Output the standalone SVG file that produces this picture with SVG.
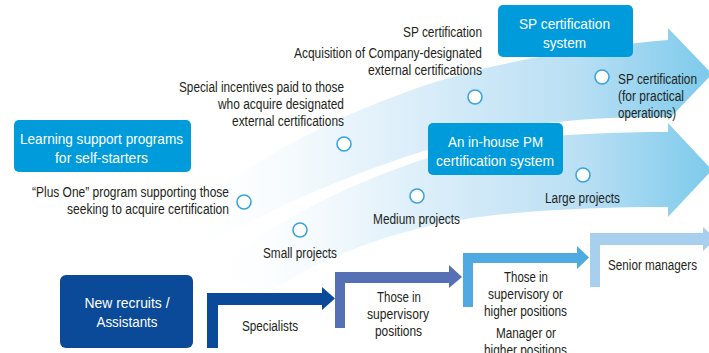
<svg xmlns="http://www.w3.org/2000/svg" width="709" height="353" viewBox="0 0 709 353">
<defs>
<linearGradient id="gU" gradientUnits="userSpaceOnUse" x1="170" y1="0" x2="712" y2="0">
<stop offset="0" stop-color="#ffffff" stop-opacity="0"/>
<stop offset="0.35" stop-color="#e6f3fb"/>
<stop offset="0.75" stop-color="#b9dff4"/>
<stop offset="1" stop-color="#7ccaec"/>
</linearGradient>
<linearGradient id="gL" gradientUnits="userSpaceOnUse" x1="200" y1="0" x2="712" y2="0">
<stop offset="0" stop-color="#ffffff" stop-opacity="0"/>
<stop offset="0.35" stop-color="#e6f3fb"/>
<stop offset="0.75" stop-color="#b9dff4"/>
<stop offset="1" stop-color="#7ccaec"/>
</linearGradient>
<style>
.lbl{font-family:"Liberation Sans",Arial,sans-serif;font-size:14px;fill:#231f20}
.box{font-family:"Liberation Sans",Arial,sans-serif;font-size:15.5px;fill:#ffffff}
.bl{fill:#009bdb}
.dot{fill:#ffffff;stroke:#3aa3df;stroke-width:1.6}
.e{text-anchor:end}
.m{text-anchor:middle}
</style>
</defs>

<g id="tracks">
<path id="track-sp" d="M165,222 C230,178 290,140 360,110 C420,85 500,55 668,40 L668,28 L712,74 L668,120 L668,117 C600,116 520,122 460,140 C400,158 320,182 200,248 Z" fill="url(#gU)"/>
<path id="track-pm" d="M210,275 C270,222 350,180 460,148 C520,136 600,132 668,132 L668,123 L712,170 L668,217 L668,207 C600,207 520,210 460,220 C400,230 330,252 270,292 Z" fill="url(#gL)"/>
</g>

<g id="connectors">
<polygon id="step1" points="207,348 207,293 322,293 322,287 335,298.5 322,310 322,305 218,305 218,348" fill="#0a4a98"/>
<polygon id="step2" points="335,328 335,272 449,272 449,265 462,277 449,288 449,283 345,283 345,328" fill="#5670b6"/>
<polygon id="step3" points="463,307 463,253 577,253 577,246 589,257.5 577,269 577,263 473,263 473,307" fill="#4faae2"/>
<polygon id="step4" points="590,287 590,233 703,233 703,227 716,239 703,251 703,245 600,245 600,287" fill="#a7cfee"/>
</g>

<g id="node-learning">
<rect x="14" y="120" width="177" height="52" rx="5" class="bl"/>
<text class="box m" x="101.5" y="144" textLength="163" lengthAdjust="spacingAndGlyphs">Learning support programs</text>
<text class="box m" x="101.5" y="163" textLength="93" lengthAdjust="spacingAndGlyphs">for self-starters</text>
</g>

<g id="node-sp-system">
<rect x="498" y="5" width="135" height="52" rx="5" class="bl"/>
<text class="box m" x="564.5" y="29" textLength="91" lengthAdjust="spacingAndGlyphs">SP certification</text>
<text class="box m" x="564.5" y="48" textLength="43" lengthAdjust="spacingAndGlyphs">system</text>
</g>

<g id="node-pm-system">
<rect x="428" y="123" width="135" height="52" rx="5" class="bl"/>
<text class="box m" x="495.5" y="147" textLength="95" lengthAdjust="spacingAndGlyphs">An in-house PM</text>
<text class="box m" x="495" y="166" textLength="118" lengthAdjust="spacingAndGlyphs">certification system</text>
</g>

<g id="node-recruits">
<rect x="60" y="275" width="133" height="73" rx="6" fill="#0a4a98"/>
<text class="box m" x="127" y="308" textLength="85" lengthAdjust="spacingAndGlyphs">New recruits /</text>
<text class="box m" x="127" y="327" textLength="61" lengthAdjust="spacingAndGlyphs">Assistants</text>
</g>

<g id="node-sp-cert">
<circle class="dot" cx="475" cy="97" r="7"/>
<text class="lbl e" x="482" y="37" textLength="79" lengthAdjust="spacingAndGlyphs">SP certification</text>
<text class="lbl e" x="482" y="58" textLength="188" lengthAdjust="spacingAndGlyphs">Acquisition of Company-designated</text>
<text class="lbl e" x="482" y="75" textLength="114" lengthAdjust="spacingAndGlyphs">external certifications</text>
</g>

<g id="node-sp-practical">
<circle class="dot" cx="602" cy="77" r="7"/>
<text class="lbl" x="618" y="84" textLength="79" lengthAdjust="spacingAndGlyphs">SP certification</text>
<text class="lbl" x="618" y="101" textLength="66" lengthAdjust="spacingAndGlyphs">(for practical</text>
<text class="lbl" x="618" y="118" textLength="58" lengthAdjust="spacingAndGlyphs">operations)</text>
</g>

<g id="node-incentives">
<circle class="dot" cx="344" cy="144" r="7"/>
<text class="lbl e" x="344" y="92" textLength="165" lengthAdjust="spacingAndGlyphs">Special incentives paid to those</text>
<text class="lbl e" x="344" y="109" textLength="126" lengthAdjust="spacingAndGlyphs">who acquire designated</text>
<text class="lbl e" x="344" y="126" textLength="112" lengthAdjust="spacingAndGlyphs">external certifications</text>
</g>

<g id="node-plusone">
<circle class="dot" cx="244" cy="202" r="7"/>
<text class="lbl e" x="229" y="197" textLength="197" lengthAdjust="spacingAndGlyphs">“Plus One” program supporting those</text>
<text class="lbl e" x="229" y="214" textLength="162" lengthAdjust="spacingAndGlyphs">seeking to acquire certification</text>
</g>

<g id="node-small">
<circle class="dot" cx="300" cy="230" r="7"/>
<text class="lbl m" x="300" y="258" textLength="74" lengthAdjust="spacingAndGlyphs">Small projects</text>
</g>

<g id="node-medium">
<circle class="dot" cx="417" cy="196" r="7"/>
<text class="lbl m" x="416.5" y="224" textLength="87" lengthAdjust="spacingAndGlyphs">Medium projects</text>
</g>

<g id="node-large">
<circle class="dot" cx="583" cy="175" r="7"/>
<text class="lbl m" x="582.5" y="203" textLength="75" lengthAdjust="spacingAndGlyphs">Large projects</text>
</g>

<g id="node-specialists">
<text class="lbl m" x="270" y="331" textLength="56" lengthAdjust="spacingAndGlyphs">Specialists</text>
</g>

<g id="node-supervisory">
<text class="lbl m" x="399" y="302" textLength="44" lengthAdjust="spacingAndGlyphs">Those in</text>
<text class="lbl m" x="398" y="319" textLength="62" lengthAdjust="spacingAndGlyphs">supervisory</text>
<text class="lbl m" x="398.5" y="336" textLength="47" lengthAdjust="spacingAndGlyphs">positions</text>
</g>

<g id="node-higher">
<text class="lbl m" x="526" y="282" textLength="44" lengthAdjust="spacingAndGlyphs">Those in</text>
<text class="lbl m" x="525.5" y="299" textLength="75" lengthAdjust="spacingAndGlyphs">supervisory or</text>
<text class="lbl m" x="525.5" y="316" textLength="83" lengthAdjust="spacingAndGlyphs">higher positions</text>
<text class="lbl m" x="526" y="338" textLength="60" lengthAdjust="spacingAndGlyphs">Manager or</text>
<text class="lbl m" x="525.5" y="355" textLength="83" lengthAdjust="spacingAndGlyphs">higher positions</text>
</g>

<g id="node-senior">
<text class="lbl m" x="652.5" y="270" textLength="89" lengthAdjust="spacingAndGlyphs">Senior managers</text>
</g>
</svg>
